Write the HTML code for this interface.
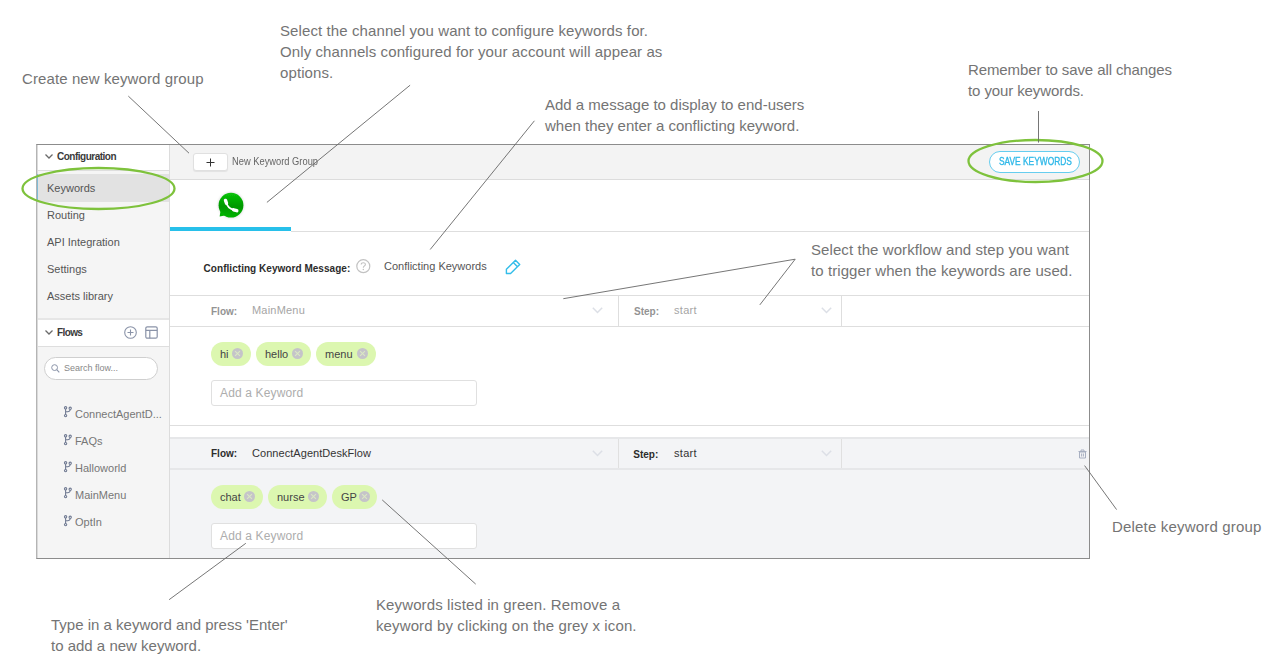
<!DOCTYPE html>
<html><head><meta charset="utf-8">
<style>
*{box-sizing:border-box;margin:0;padding:0}
html,body{width:1270px;height:664px;overflow:hidden;background:#fff;font-family:"Liberation Sans",sans-serif}
.a{position:absolute}
.note{position:absolute;z-index:5;font-size:15px;line-height:21px;color:#747474;white-space:nowrap}
#frame{position:absolute;left:36px;top:144px;width:1054px;height:415px;border:1px solid #8c8c8c;border-left-color:#b4b4b4;background:#fff}
/* sidebar */
#side{position:absolute;left:37px;top:145px;width:133px;height:413px;background:#f5f5f5;border-right:1px solid #dcdcdc}
.sh{position:absolute;left:0;width:132px;background:#fff;border-bottom:1px solid #dedede}
.chev{position:absolute;width:8px;height:5px}
.si{position:absolute;left:10px;font-size:11px;color:#555;line-height:13px}
.fl{position:absolute;left:38px;font-size:11px;color:#777;line-height:13px}
.br{position:absolute;left:26px;width:10px;height:12px}
/* main */
#top{position:absolute;left:170px;top:145px;width:919px;height:35px;background:#f3f3f3;border-bottom:1px solid #dcdcdc}
.hline{position:absolute;height:1px;background:#e0e0e0}
.vline{position:absolute;width:1px;background:#e0e0e0}
.chip{position:absolute;height:24px;border-radius:12px;background:#dcf7b0;font-size:11px;color:#444;line-height:24px;padding-left:9px}
.chip i{position:absolute;top:6px;width:11px;height:11px;border-radius:50%;background:#c5c4c9}
.chip i:before,.chip i:after{content:"";position:absolute;left:5px;top:2px;width:1px;height:7px;background:#dbe9c4;transform:rotate(45deg)}
.chip i:after{transform:rotate(-45deg)}
.inp{position:absolute;left:211px;width:266px;height:26px;border:1px solid #e0e0e0;border-radius:3px;background:#fff;font-size:12px;color:#adadad;padding-left:8px;line-height:24px;letter-spacing:0.15px}
.lbl{position:absolute;font-size:10px;font-weight:bold;line-height:12px}
.val{position:absolute;font-size:11px;line-height:13px}
</style></head><body>

<!-- annotations -->
<div class="note" style="left:22px;top:68px;letter-spacing:0.1px">Create new keyword group</div>
<div class="note" style="left:280px;top:20px;letter-spacing:0.1px">Select the channel you want to configure keywords for.<br>Only channels configured for your account will appear as<br>options.</div>
<div class="note" style="left:545px;top:94px">Add a message to display to end-users<br>when they enter a conflicting keyword.</div>
<div class="note" style="left:968px;top:59px;letter-spacing:-0.1px">Remember to save all changes<br>to your keywords.</div>
<div class="note" style="left:811px;top:239px;letter-spacing:0.08px">Select the workflow and step you want<br>to trigger when the keywords are used.</div>
<div class="note" style="left:1112px;top:516px;letter-spacing:0.18px">Delete keyword group</div>
<div class="note" style="left:51px;top:614px">Type in a keyword and press 'Enter'<br>to add a new keyword.</div>
<div class="note" style="left:376px;top:594px;letter-spacing:0.12px">Keywords listed in green. Remove a<br>keyword by clicking on the grey x icon.</div>

<div id="frame"></div>

<!-- sidebar -->
<div id="side">
  <div class="sh" style="top:0;height:26px">
    <svg class="a" style="left:7px;top:8px" width="10" height="7" viewBox="0 0 10 7"><path d="M1.5 1.5 L5 5 L8.5 1.5" fill="none" stroke="#6a6a6a" stroke-width="1.3"/></svg>
    <div class="lbl" style="left:20px;top:6px;color:#3a3a3a;letter-spacing:-0.5px">Configuration</div>
  </div>
  <div class="a" style="left:0;top:0;width:1px;height:413px;background:#dadada;z-index:2"></div>
  <div class="a" style="left:0;top:29px;width:132px;height:28px;background:#e2e2e2"></div>
  <div class="a" style="left:0;top:29px;width:1px;height:26px;background:#80bcd6;z-index:3"></div>
  <div class="si" style="top:37px">Keywords</div>
  <div class="si" style="top:64px">Routing</div>
  <div class="si" style="top:91px">API Integration</div>
  <div class="si" style="top:118px">Settings</div>
  <div class="si" style="top:145px">Assets library</div>
  <div class="sh" style="top:173px;height:29px;border-top:2px solid #e6e6e6">
    <svg class="a" style="left:7px;top:9px" width="10" height="7" viewBox="0 0 10 7"><path d="M1.5 1.5 L5 5 L8.5 1.5" fill="none" stroke="#6a6a6a" stroke-width="1.3"/></svg>
    <div class="lbl" style="left:20px;top:7px;color:#3a3a3a;letter-spacing:-0.6px">Flows</div>
    <svg class="a" style="left:87px;top:6px" width="13" height="13" viewBox="0 0 13 13"><circle cx="6.5" cy="6.5" r="5.8" fill="none" stroke="#8a93a8" stroke-width="1.1"/><path d="M6.5 3.5V9.5M3.5 6.5H9.5" stroke="#8a93a8" stroke-width="1.1"/></svg>
    <svg class="a" style="left:108px;top:6px" width="13" height="13" viewBox="0 0 13 13"><rect x="0.8" y="0.8" width="11.4" height="11.4" rx="1.5" fill="none" stroke="#8a93a8" stroke-width="1.2"/><path d="M0.8 4.4H12.2M4.8 4.4V12.2" stroke="#8a93a8" stroke-width="1.2"/></svg>
  </div>
  <div class="a" style="left:7px;top:212px;width:114px;height:23px;border:1px solid #cfcfcf;border-radius:12px;background:#fff"></div>
  <svg class="a" style="left:14px;top:219px" width="9" height="9" viewBox="0 0 9 9"><circle cx="3.6" cy="3.6" r="2.9" fill="none" stroke="#8a93a8" stroke-width="1"/><path d="M5.7 5.7L8.3 8.3" stroke="#8a93a8" stroke-width="1.1"/></svg>
  <div class="a" style="left:27px;top:218px;font-size:9px;color:#888;line-height:11px">Search flow...</div>

<svg class="br" style="top:260.9px" viewBox="0 0 10 12"><g fill="none" stroke="#717b93" stroke-width="1.1"><circle cx="2.6" cy="1.8" r="1.15"/><circle cx="7.2" cy="2.3" r="1.15"/><circle cx="2.6" cy="9.6" r="1.15"/><path d="M2.6 2.9V8.5M7.2 3.4C7.2 5.2 5.8 5.8 2.6 5.8"/></g></svg>
<svg class="br" style="top:288.8px" viewBox="0 0 10 12"><g fill="none" stroke="#717b93" stroke-width="1.1"><circle cx="2.6" cy="1.8" r="1.15"/><circle cx="7.2" cy="2.3" r="1.15"/><circle cx="2.6" cy="9.6" r="1.15"/><path d="M2.6 2.9V8.5M7.2 3.4C7.2 5.2 5.8 5.8 2.6 5.8"/></g></svg>
<svg class="br" style="top:315.9px" viewBox="0 0 10 12"><g fill="none" stroke="#717b93" stroke-width="1.1"><circle cx="2.6" cy="1.8" r="1.15"/><circle cx="7.2" cy="2.3" r="1.15"/><circle cx="2.6" cy="9.6" r="1.15"/><path d="M2.6 2.9V8.5M7.2 3.4C7.2 5.2 5.8 5.8 2.6 5.8"/></g></svg>
<svg class="br" style="top:342.4px" viewBox="0 0 10 12"><g fill="none" stroke="#717b93" stroke-width="1.1"><circle cx="2.6" cy="1.8" r="1.15"/><circle cx="7.2" cy="2.3" r="1.15"/><circle cx="2.6" cy="9.6" r="1.15"/><path d="M2.6 2.9V8.5M7.2 3.4C7.2 5.2 5.8 5.8 2.6 5.8"/></g></svg>
<svg class="br" style="top:369.5px" viewBox="0 0 10 12"><g fill="none" stroke="#717b93" stroke-width="1.1"><circle cx="2.6" cy="1.8" r="1.15"/><circle cx="7.2" cy="2.3" r="1.15"/><circle cx="2.6" cy="9.6" r="1.15"/><path d="M2.6 2.9V8.5M7.2 3.4C7.2 5.2 5.8 5.8 2.6 5.8"/></g></svg>
  <div class="fl" style="top:263px">ConnectAgentD...</div>
  <div class="fl" style="top:290px">FAQs</div>
  <div class="fl" style="top:317px">Halloworld</div>
  <div class="fl" style="top:344px">MainMenu</div>
  <div class="fl" style="top:371px">OptIn</div>
</div>

<!-- top bar -->
<div id="top">
  <div class="a" style="left:23px;top:8px;width:35px;height:18px;background:#fff;border:1px solid #e0e0e0;border-radius:3px;box-shadow:0 1px 1px rgba(0,0,0,0.07)"></div>
  <svg class="a" style="left:36px;top:13px" width="9" height="9" viewBox="0 0 9 9"><path d="M4.5 0.5V8.5M0.5 4.5H8.5" stroke="#333" stroke-width="1"/></svg>
  <div class="a" style="left:62px;top:11px;font-size:10.2px;color:#666;line-height:12px;transform:scaleX(0.915);transform-origin:0 0;white-space:nowrap">New Keyword Group</div>
  <div class="a" style="left:819px;top:6px;width:91px;height:22px;border:1.6px solid #66cdef;border-radius:11px;background:#fff"></div>
  <div class="a" style="left:829px;top:10px;font-size:10.6px;color:#2fb8e8;line-height:13px;-webkit-text-stroke:0.35px #2fb8e8;transform:scaleX(0.79);transform-origin:0 0;white-space:nowrap">SAVE KEYWORDS</div>
</div>

<!-- tab -->
<svg class="a" style="left:215px;top:189px" width="32" height="32" viewBox="-2 -2 32 32">
  <defs><linearGradient id="wg" x1="0" y1="0" x2="0" y2="1"><stop offset="0" stop-color="#08c408"/><stop offset="0.55" stop-color="#009800"/><stop offset="1" stop-color="#05b405"/></linearGradient>
  <filter id="ws" x="-30%" y="-30%" width="160%" height="160%"><feGaussianBlur stdDeviation="1"/></filter>
  <filter id="wb" x="-20%" y="-20%" width="140%" height="140%"><feGaussianBlur stdDeviation="0.35"/></filter></defs>
  <circle cx="14" cy="14.2" r="13.2" fill="#000" opacity="0.10" filter="url(#ws)"/>
  <g filter="url(#wb)">
  <circle cx="14" cy="14.2" r="12.4" fill="url(#wg)"/>
  <path d="M3.6 19.5 L2.6 25.6 L9.2 24.2 Z" fill="#05b005"/>
  <g transform="translate(0.4 0.9)">
  <path d="M8.8 10.2 C9.6 14 12.6 17 16.5 18.1" fill="none" stroke="#fff" stroke-width="1.9" stroke-linecap="round"/>
  <path d="M8.1 8.5 L9.1 11.4" stroke="#fff" stroke-width="3.4" stroke-linecap="round"/>
  <path d="M16.2 17.9 L19.4 18.8" stroke="#fff" stroke-width="3.4" stroke-linecap="round"/>
  </g>
  </g>
</svg>
<div class="a" style="left:170px;top:227px;width:121px;height:4px;background:#28c0ea"></div>
<div class="hline" style="left:291px;top:231px;width:798px;background:#dedede"></div>

<!-- conflicting -->
<div class="lbl" style="left:203.6px;top:263px;color:#2c2c2c;letter-spacing:0.04px">Conflicting Keyword Message:</div>
<svg class="a" style="left:356px;top:259px" width="15" height="15" viewBox="0 0 15 15"><circle cx="7.3" cy="7.2" r="6.5" fill="none" stroke="#c2c2c2" stroke-width="1.2"/><path d="M5.2 5.5 C5.2 3.2 9.4 3.2 9.4 5.4 C9.4 6.8 7.3 7 7.3 8.7" fill="none" stroke="#c2c2c2" stroke-width="1.1"/><circle cx="7.3" cy="10.4" r="0.75" fill="#c2c2c2"/></svg>
<div class="val" style="left:384px;top:260px;color:#555">Conflicting Keywords</div>
<svg class="a" style="left:505px;top:259px" width="16" height="16" viewBox="0 0 16 16"><path d="M1.4 10.3 L10.5 1.3 L14.7 5.5 L5.6 14.5 L1.4 14.5 Z M8.3 3.5 L12.5 7.7" fill="none" stroke="#33bde9" stroke-width="1.4" stroke-linejoin="round"/></svg>
<div class="hline" style="left:170px;top:295px;width:919px;background:#dedede"></div>

<!-- group 1 flow row -->
<div class="lbl" style="left:211px;top:306px;color:#939393">Flow:</div>
<div class="val" style="left:252px;top:304px;color:#a5a5a5;letter-spacing:0.2px">MainMenu</div>
<svg class="a" style="left:592px;top:306.5px" width="11" height="7" viewBox="0 0 11 7"><path d="M0.8 0.8L5.5 5.5L10.2 0.8" fill="none" stroke="#dcdfe6" stroke-width="1.5"/></svg>
<div class="vline" style="left:618px;top:296px;height:30px;background:#dedede"></div>
<div class="lbl" style="left:634px;top:306px;color:#939393">Step:</div>
<div class="val" style="left:674px;top:304px;color:#a5a5a5;letter-spacing:0.3px">start</div>
<svg class="a" style="left:821px;top:306.5px" width="11" height="7" viewBox="0 0 11 7"><path d="M0.8 0.8L5.5 5.5L10.2 0.8" fill="none" stroke="#dcdfe6" stroke-width="1.5"/></svg>
<div class="vline" style="left:841px;top:296px;height:30px;background:#dedede"></div>
<div class="hline" style="left:170px;top:326px;width:919px;background:#dedede"></div>

<div class="chip" style="left:211px;top:342px;width:40px">hi<i style="left:21px"></i></div>
<div class="chip" style="left:256px;top:342px;width:55px">hello<i style="left:36px"></i></div>
<div class="chip" style="left:316px;top:342px;width:60px">menu<i style="left:41px"></i></div>
<div class="inp" style="top:380px">Add a Keyword</div>
<div class="hline" style="left:170px;top:425px;width:919px;background:#dedede"></div>

<!-- group 2 -->
<div class="a" style="left:170px;top:437px;width:919px;height:121px;background:#f3f4f6;border-top:2px solid #e6e7e9"></div>
<div class="hline" style="left:170px;top:468px;width:918px;height:2px;background:#e6e7e9"></div>
<div class="lbl" style="left:211px;top:448px;color:#2c2c2c">Flow:</div>
<div class="val" style="left:252px;top:447px;color:#333;letter-spacing:0.05px">ConnectAgentDeskFlow</div>
<svg class="a" style="left:592px;top:449.5px" width="11" height="7" viewBox="0 0 11 7"><path d="M0.8 0.8L5.5 5.5L10.2 0.8" fill="none" stroke="#dcdfe6" stroke-width="1.5"/></svg>
<div class="vline" style="left:618px;top:439px;height:29px;background:#e0e0e0"></div>
<div class="lbl" style="left:633.3px;top:449px;color:#2c2c2c">Step:</div>
<div class="val" style="left:674px;top:447px;color:#333;letter-spacing:0.3px">start</div>
<svg class="a" style="left:821px;top:449.5px" width="11" height="7" viewBox="0 0 11 7"><path d="M0.8 0.8L5.5 5.5L10.2 0.8" fill="none" stroke="#dcdfe6" stroke-width="1.5"/></svg>
<div class="vline" style="left:841px;top:439px;height:29px;background:#e0e0e0"></div>
<svg class="a" style="left:1078px;top:449px" width="9" height="10" viewBox="0 0 9 10"><path d="M1.5 3H7.5V9H1.5Z M0.5 2.5H8.5 M3 2.2V1H6V2.2 M3.6 4.5V7.5 M5.4 4.5V7.5" fill="none" stroke="#a8b0c2" stroke-width="1"/></svg>

<div class="chip" style="left:211px;top:485px;width:52px">chat<i style="left:33px"></i></div>
<div class="chip" style="left:268px;top:485px;width:59px">nurse<i style="left:40px"></i></div>
<div class="chip" style="left:332px;top:485px;width:45px">GP<i style="left:27px"></i></div>
<div class="inp" style="top:523px">Add a Keyword</div>

<!-- overlays: ellipses and connector lines -->
<svg class="a" style="left:0;top:0;z-index:4" width="1270" height="664" viewBox="0 0 1270 664">
  <g fill="none" stroke="#7ec23c" stroke-width="2.3">
    <ellipse cx="98.5" cy="188.5" rx="76" ry="20.5"/>
    <ellipse cx="1035.5" cy="161" rx="67" ry="21"/>
  </g>
  <g stroke="#666" stroke-width="0.9" fill="none">
    <line x1="128.3" y1="96.1" x2="189" y2="153.2"/>
    <line x1="410.1" y1="85.2" x2="266.9" y2="202.4"/>
    <line x1="534.4" y1="120.8" x2="430.2" y2="249.5"/>
    <polyline points="563.3,298.7 795.2,259.2 759.8,304.9"/>
    <line x1="1038.5" y1="111" x2="1038.5" y2="142.6"/>
    <line x1="1084.6" y1="465.6" x2="1116.6" y2="509.6"/>
    <line x1="245.8" y1="543.3" x2="169.1" y2="599.7"/>
    <line x1="382.2" y1="499.9" x2="475.7" y2="584.1"/>
  </g>
</svg>
</body></html>
